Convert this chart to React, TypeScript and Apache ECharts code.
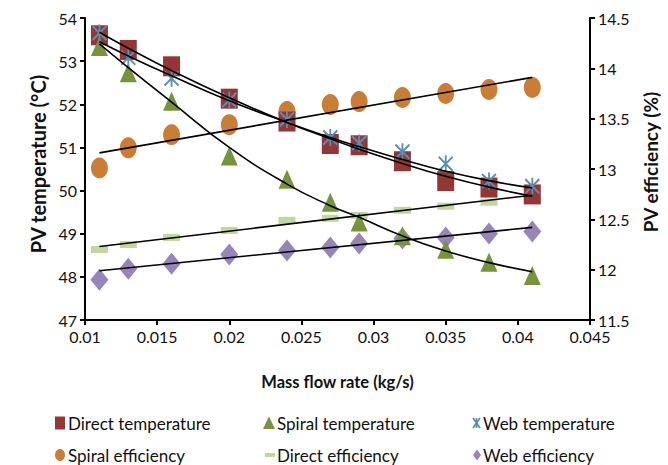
import React, { useEffect, useRef } from "react";
import * as echarts from "echarts";

const massFlow = [0.011, 0.013, 0.016, 0.02, 0.024, 0.027, 0.029, 0.032, 0.035, 0.038, 0.041];
const directTemp = [53.6, 53.26, 52.88, 52.13, 51.6, 51.08, 51.05, 50.68, 50.22, 50.07, 49.91];
const spiralTemp = [53.34, 52.73, 52.07, 50.8, 50.26, 49.73, 49.27, 48.95, 48.64, 48.34, 48.03];
const webTemp = [53.65, 53.08, 52.6, 52.1, 51.65, 51.23, 51.1, 50.9, 50.62, 50.22, 50.1];
const spiralEff = [13.01, 13.21, 13.34, 13.44, 13.57, 13.64, 13.67, 13.71, 13.75, 13.79, 13.81];
const directEff = [12.2, 12.25, 12.32, 12.39, 12.49, 12.51, 12.54, 12.59, 12.63, 12.67, 12.69];
const webEff = [11.9, 12.01, 12.06, 12.15, 12.19, 12.22, 12.26, 12.31, 12.32, 12.36, 12.38];

// trend lines
const directTempTrend = [53.67, 53.3, 52.78, 52.15, 51.58, 51.2, 50.96, 50.63, 50.33, 50.08, 49.87];
const webTempTrend = [53.45, 53.12, 52.66, 52.08, 51.58, 51.23, 51.02, 50.72, 50.45, 50.23, 50.06];
const spiralTempTrend = [53.4, 52.85, 52.05, 51.0, 50.15, 49.65, 49.38, 48.95, 48.6, 48.33, 48.12];
const linTrendX = [0.011, 0.041];
const spiralEffTrend = [13.16, 13.91];
const directEffTrend = [12.23, 12.74];
const webEffTrend = [11.99, 12.42];

const legendNames = [
  "Direct temperature",
  "Spiral temperature",
  "Web temperature",
  "Spiral efficiency",
  "Direct efficiency",
  "Web efficiency",
];

const xTicks = { min: 0.01, max: 0.045, interval: 0.005 };
const leftTicks = { min: 47, max: 54, interval: 1 };
const rightTicks = { min: 11.5, max: 14.5, interval: 0.5 };

const FONT = "Lato, 'Open Sans', sans-serif";
const STAR = "path://M0,0L10,10M10,0L0,10M5,-1L5,11";

const C_DT = "#943634";
const C_ST = "#77933c";
const C_WT = "#5b8db5";
const C_SE = "#c97d35";
const C_DE = "#c3d69b";
const C_WE = "#9685b6";

const pair = (xs: number[], ys: number[]) => xs.map((x, i) => [x, ys[i]]);

export default function App() {
  const ref = useRef<HTMLDivElement>(null);
  useEffect(() => {
    if (!ref.current) return;
    const chart = echarts.init(ref.current, undefined, { renderer: "svg" });
    const axisCommon = {
      axisLine: { show: true, lineStyle: { color: "#000", width: 2 } },
      axisTick: { show: true, inside: false, length: 5, lineStyle: { color: "#000", width: 2 } },
      splitLine: { show: false },
      axisLabel: { color: "#111", fontSize: 16, fontFamily: FONT },
    };
    const nameStyle = (fs: number, padding: number[]) => ({
      color: "#111",
      fontSize: fs,
      fontWeight: "bold",
      fontFamily: FONT,
      padding,
    });
    const trend = (name: string, data: number[][], yAxisIndex: number, smooth: boolean) => ({
      name,
      type: "line",
      yAxisIndex,
      data,
      smooth,
      showSymbol: false,
      symbol: "none",
      lineStyle: { color: "#000", width: 1.6 },
      z: 10,
      silent: true,
    });
    const legText = (name: string, x: number, y: number) => ({
      type: "text",
      x,
      y,
      style: {
        text: name,
        fill: "#111",
        fontSize: 17,
        fontFamily: FONT,
        verticalAlign: "middle",
        align: "left",
      },
    });
    const r1 = 423;
    const r2 = 455;
    const graphic = [
      { type: "rect", shape: { x: 55, y: r1 - 6.5, width: 10, height: 13 }, style: { fill: C_DT } },
      legText(legendNames[0], 68, r1),
      { type: "polygon", shape: { points: [[269, r1 - 6.5], [275, r1 + 6], [263, r1 + 6]] }, style: { fill: C_ST } },
      legText(legendNames[1], 277, r1),
      {
        type: "group",
        children: [
          { type: "line", shape: { x1: 473, y1: r1 - 5, x2: 480, y2: r1 + 5 }, style: { stroke: C_WT, lineWidth: 1.8 } },
          { type: "line", shape: { x1: 480, y1: r1 - 5, x2: 473, y2: r1 + 5 }, style: { stroke: C_WT, lineWidth: 1.8 } },
          { type: "line", shape: { x1: 476.5, y1: r1 - 5, x2: 476.5, y2: r1 + 5 }, style: { stroke: C_WT, lineWidth: 1.8 } },
        ],
      },
      legText(legendNames[2], 483, r1),
      { type: "ellipse", shape: { cx: 60, cy: r2, rx: 5, ry: 6 }, style: { fill: C_SE } },
      legText(legendNames[3], 68, r2),
      { type: "rect", shape: { x: 265, y: r2 - 2, width: 10, height: 4 }, style: { fill: C_DE } },
      legText(legendNames[4], 277, r2),
      { type: "polygon", shape: { points: [[477, r2 - 5.5], [481, r2], [477, r2 + 5.5], [473, r2]] }, style: { fill: C_WE } },
      legText(legendNames[5], 483, r2),
    ];
    chart.setOption({
      animation: false,
      backgroundColor: "#fff",
      grid: { left: 85, right: 78, top: 18, bottom: 145, containLabel: false },
      xAxis: {
        type: "value",
        ...xTicks,
        ...axisCommon,
        name: "Mass flow rate (kg/s)",
        nameLocation: "middle",
        nameGap: 53,
        nameTextStyle: nameStyle(16.5, [0, 0, 0, 0]),
        axisLabel: { ...axisCommon.axisLabel, margin: 8, formatter: (v: number) => String(+v.toFixed(3)) },
      },
      yAxis: [
        {
          type: "value",
          ...leftTicks,
          ...axisCommon,
          position: "left",
          name: "PV temperature (°C)",
          nameLocation: "middle",
          nameGap: 35,
          nameTextStyle: nameStyle(20, [0, 0, 0, 10]),
        },
        {
          type: "value",
          ...rightTicks,
          ...axisCommon,
          position: "right",
          name: "PV efficiency (%)",
          nameLocation: "middle",
          nameGap: 45,
          nameRotate: 90,
          nameTextStyle: nameStyle(19, [0, 0, 0, 14]),
        },
      ],
      graphic,
      series: [
        {
          name: legendNames[3],
          type: "scatter",
          yAxisIndex: 1,
          data: pair(massFlow, spiralEff),
          symbol: "circle",
          symbolSize: [17, 21],
          itemStyle: { color: C_SE, opacity: 1 },
          z: 2,
        },
        {
          name: legendNames[4],
          type: "scatter",
          yAxisIndex: 1,
          data: pair(massFlow, directEff),
          symbol: "rect",
          symbolSize: [17, 7],
          itemStyle: { color: C_DE, opacity: 1 },
          z: 2,
        },
        {
          name: legendNames[5],
          type: "scatter",
          yAxisIndex: 1,
          data: pair(massFlow, webEff),
          symbol: "diamond",
          symbolSize: [18, 22],
          itemStyle: { color: C_WE, opacity: 1 },
          z: 2,
        },
        {
          name: legendNames[0],
          type: "scatter",
          yAxisIndex: 0,
          data: pair(massFlow, directTemp),
          symbol: "rect",
          symbolSize: [17, 20],
          itemStyle: { color: C_DT, opacity: 1 },
          z: 3,
        },
        {
          name: legendNames[1],
          type: "scatter",
          yAxisIndex: 0,
          data: pair(massFlow, spiralTemp),
          symbol: "triangle",
          symbolSize: [17, 19],
          itemStyle: { color: C_ST, opacity: 1 },
          z: 3,
        },
        {
          name: legendNames[2],
          type: "scatter",
          yAxisIndex: 0,
          data: pair(massFlow, webTemp),
          symbol: STAR,
          symbolSize: [14, 17],
          itemStyle: { color: C_WT, borderColor: C_WT, borderWidth: 2, opacity: 1 },
          z: 4,
        },
        trend("t1", pair(massFlow, directTempTrend), 0, true),
        trend("t2", pair(massFlow, webTempTrend), 0, true),
        trend("t3", pair(massFlow, spiralTempTrend), 0, true),
        trend("t4", pair(linTrendX, spiralEffTrend), 1, false),
        trend("t5", pair(linTrendX, directEffTrend), 1, false),
        trend("t6", pair(linTrendX, webEffTrend), 1, false),
      ],
    });
    return () => chart.dispose();
  }, []);
  return (
    <div
      ref={ref}
      style={{ position: "fixed", left: 0, top: 0, width: 668, height: 465, background: "#fff" }}
    />
  );
}
